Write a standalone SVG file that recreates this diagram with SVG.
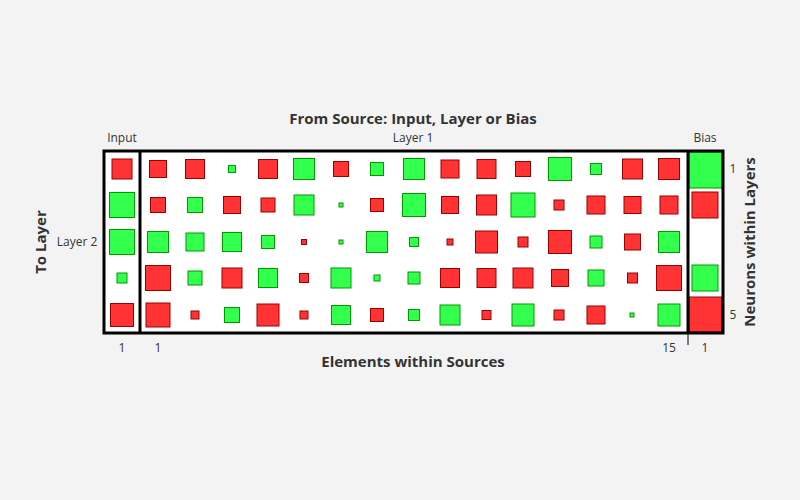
<svg xmlns="http://www.w3.org/2000/svg" width="800" height="500" viewBox="0 0 800 500">
<style>
.r{fill:#ff3333;stroke:#990000;stroke-width:1}
.g{fill:#33ff4d;stroke:#009900;stroke-width:1}
.t{font-family:"Open Sans","Liberation Sans",sans-serif;font-size:12px;fill:#333;text-anchor:middle}
.b{font-family:"Open Sans","Liberation Sans",sans-serif;font-size:15px;font-weight:bold;fill:#333;text-anchor:middle}
.f{fill:none;stroke:#000;stroke-width:3}
</style>
<rect width="800" height="500" fill="#f3f3f3"/>
<rect x="104" y="151" width="619" height="182" fill="#fff"/>
<text class="b" x="413" y="124">From Source: Input, Layer or Bias</text>
<text class="b" x="413" y="367">Elements within Sources</text>
<text class="b" transform="translate(46,242) rotate(-90)">To Layer</text>
<text class="b" transform="translate(755,242) rotate(-90)">Neurons within Layers</text>
<text class="t" x="122" y="142">Input</text>
<text class="t" x="413" y="142">Layer 1</text>
<text class="t" x="705" y="142">Bias</text>
<text class="t" x="77" y="246">Layer 2</text>
<text class="t" x="122" y="352">1</text>
<text class="t" x="158" y="352">1</text>
<text class="t" x="669" y="352">15</text>
<text class="t" x="705" y="352">1</text>
<text class="t" x="733" y="173">1</text>
<text class="t" x="733" y="319">5</text>
<g id="input">
<rect class="r" x="112" y="159" width="20" height="20"/>
<rect class="g" x="109.5" y="192.5" width="25" height="25"/>
<rect class="g" x="109.5" y="229.5" width="25" height="25"/>
<rect class="g" x="117" y="273" width="10" height="10"/>
<rect class="r" x="110.5" y="303.5" width="23" height="23"/>
</g>
<g id="layer1">
<rect class="r" x="149.5" y="160.5" width="17" height="17"/>
<rect class="r" x="185.5" y="159.5" width="19" height="19"/>
<rect class="g" x="228.5" y="165.5" width="7" height="7"/>
<rect class="r" x="258.5" y="159.5" width="19" height="19"/>
<rect class="g" x="293.5" y="158.5" width="21" height="21"/>
<rect class="r" x="333.5" y="161.5" width="15" height="15"/>
<rect class="g" x="370.5" y="162.5" width="13" height="13"/>
<rect class="g" x="403.5" y="158.5" width="21" height="21"/>
<rect class="r" x="441" y="160" width="18" height="18"/>
<rect class="r" x="477" y="159.5" width="19" height="19"/>
<rect class="r" x="515.5" y="161.5" width="15" height="15"/>
<rect class="g" x="548.5" y="157.5" width="23" height="23"/>
<rect class="g" x="590.5" y="163.5" width="11" height="11"/>
<rect class="r" x="622.5" y="159" width="20" height="20"/>
<rect class="r" x="658.5" y="158.5" width="21" height="21"/>

<rect class="r" x="150.5" y="197.5" width="15" height="15"/>
<rect class="g" x="187.5" y="197.5" width="15" height="15"/>
<rect class="r" x="223.5" y="196.5" width="17" height="17"/>
<rect class="r" x="261" y="198" width="14" height="14"/>
<rect class="g" x="294" y="195" width="20" height="20"/>
<rect class="g" x="339" y="203" width="4" height="4"/>
<rect class="r" x="370.5" y="198.5" width="13" height="13"/>
<rect class="g" x="402.5" y="193.5" width="23" height="23"/>
<rect class="r" x="441.5" y="196.5" width="17" height="17"/>
<rect class="r" x="476.5" y="195" width="20" height="20"/>
<rect class="g" x="511" y="193" width="24" height="24"/>
<rect class="r" x="554" y="200" width="10" height="10"/>
<rect class="r" x="587" y="196" width="18" height="18"/>
<rect class="r" x="624" y="196.5" width="17" height="17"/>
<rect class="r" x="660" y="196" width="18" height="18"/>

<rect class="g" x="147.5" y="231.5" width="21" height="21"/>
<rect class="g" x="186" y="233" width="18" height="18"/>
<rect class="g" x="222.5" y="232.5" width="19" height="19"/>
<rect class="g" x="261.5" y="235.5" width="13" height="13"/>
<rect class="r" x="301.5" y="239.5" width="5" height="5"/>
<rect class="g" x="339" y="240" width="4" height="4"/>
<rect class="g" x="366.5" y="231.5" width="21" height="21"/>
<rect class="g" x="409.5" y="237.5" width="9" height="9"/>
<rect class="r" x="447" y="239" width="6" height="6"/>
<rect class="r" x="475.5" y="231" width="22" height="22"/>
<rect class="r" x="518" y="237" width="10" height="10"/>
<rect class="r" x="548.5" y="230.5" width="23" height="23"/>
<rect class="g" x="590" y="236" width="12" height="12"/>
<rect class="r" x="624.5" y="234" width="16" height="16"/>
<rect class="g" x="658.5" y="231.5" width="21" height="21"/>

<rect class="r" x="145.5" y="265.5" width="25" height="25"/>
<rect class="g" x="188" y="271" width="14" height="14"/>
<rect class="r" x="222" y="268" width="20" height="20"/>
<rect class="g" x="258.5" y="268.5" width="19" height="19"/>
<rect class="r" x="299.5" y="273.5" width="9" height="9"/>
<rect class="g" x="331" y="268" width="20" height="20"/>
<rect class="g" x="374" y="275" width="6" height="6"/>
<rect class="g" x="408" y="272" width="12" height="12"/>
<rect class="r" x="440.5" y="268.5" width="19" height="19"/>
<rect class="r" x="477" y="268.5" width="19" height="19"/>
<rect class="r" x="513" y="268" width="20" height="20"/>
<rect class="r" x="551.5" y="269.5" width="17" height="17"/>
<rect class="g" x="588" y="270" width="16" height="16"/>
<rect class="r" x="627.5" y="273" width="10" height="10"/>
<rect class="r" x="656.5" y="265.5" width="25" height="25"/>

<rect class="r" x="146" y="303" width="24" height="24"/>
<rect class="r" x="191" y="311" width="8" height="8"/>
<rect class="g" x="224.5" y="307.5" width="15" height="15"/>
<rect class="r" x="257" y="304" width="22" height="22"/>
<rect class="r" x="300" y="311" width="8" height="8"/>
<rect class="g" x="331.5" y="305.5" width="19" height="19"/>
<rect class="r" x="370.5" y="308.5" width="13" height="13"/>
<rect class="g" x="408.5" y="309.5" width="11" height="11"/>
<rect class="g" x="440" y="305" width="20" height="20"/>
<rect class="r" x="482" y="310.5" width="9" height="9"/>
<rect class="g" x="512" y="304" width="22" height="22"/>
<rect class="r" x="554" y="310" width="10" height="10"/>
<rect class="r" x="587" y="306" width="18" height="18"/>
<rect class="g" x="630" y="313" width="4" height="4"/>
<rect class="g" x="658" y="304" width="22" height="22"/>
</g>
<g id="bias">
<rect class="g" x="689" y="152" width="33" height="36"/>
<rect class="r" x="692" y="192" width="26" height="26"/>
<rect class="g" x="692" y="265" width="26" height="26"/>
<rect class="r" x="689" y="297" width="33" height="35"/>
</g>
<g id="frame">
<rect class="f" x="104" y="151" width="619" height="182"/>
<line x1="140" y1="151" x2="140" y2="333" stroke="#000" stroke-width="3"/>
<line x1="688" y1="151" x2="688" y2="333" stroke="#000" stroke-width="3"/>
<line x1="688" y1="333" x2="688" y2="345" stroke="#000" stroke-width="1"/>
</g>
</svg>
